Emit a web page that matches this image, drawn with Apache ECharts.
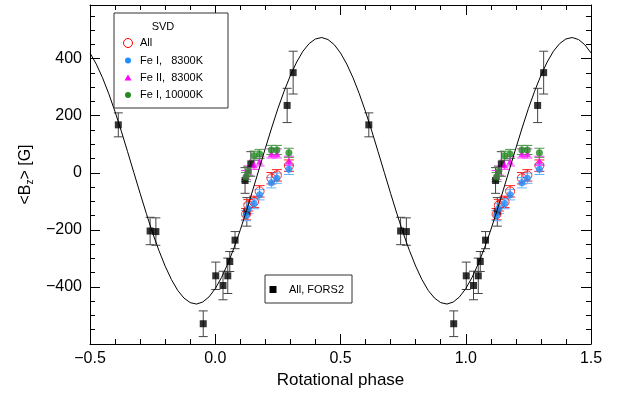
<!DOCTYPE html>
<html>
<head>
<meta charset="utf-8">
<script src="https://cdn.jsdelivr.net/npm/echarts@6/dist/echarts.min.js"></script>
<style>
  html, body { margin: 0; padding: 0; background: #fff; }
  #chart { width: 629px; height: 394px; }
</style>
</head>
<body>
<div id="chart"></div>
<script>
// fitted curve, every 0.025 in phase
const curvePhase = [
  -0.5, -0.475, -0.45, -0.425, -0.4, -0.375, -0.35, -0.325, -0.3, -0.275,
  -0.25, -0.225, -0.2, -0.175, -0.15, -0.125, -0.1, -0.075, -0.05, -0.025,
  0, 0.025, 0.05, 0.075, 0.1, 0.125, 0.15, 0.175, 0.2, 0.225,
  0.25, 0.275, 0.3, 0.325, 0.35, 0.375, 0.4, 0.425, 0.45, 0.475,
  0.5, 0.525, 0.55, 0.575, 0.6, 0.625, 0.65, 0.675, 0.7, 0.725,
  0.75, 0.775, 0.8, 0.825, 0.85, 0.875, 0.9, 0.925, 0.95, 0.975,
  1, 1.025, 1.05, 1.075, 1.1, 1.125, 1.15, 1.175, 1.2, 1.225,
  1.25, 1.275, 1.3, 1.325, 1.35, 1.375, 1.4, 1.425, 1.45, 1.475, 1.5];
const curveField = [
  420, 381, 333, 277, 214, 146, 74, 1, -72, -143,
  -211, -272, -327, -374, -412, -439, -455, -460, -453, -435,
  -406, -367, -319, -263, -200, -132, -60, 13, 86, 157,
  225, 286, 341, 388, 426, 453, 469, 474, 467, 449,
  420, 381, 333, 277, 214, 146, 74, 1, -72, -143,
  -211, -272, -327, -374, -412, -439, -455, -460, -453, -435,
  -406, -367, -319, -263, -200, -132, -60, 13, 86, 157,
  225, 286, 341, 388, 426, 453, 469, 474, 467, 449, 420];

// FORS2 measurements (each one is plotted at phase and phase + 1)
const forsPhase = [-0.387, -0.260, -0.237, -0.048, 0.002, 0.031, 0.050, 0.058, 0.079, 0.126, 0.119, 0.142, 0.287, 0.311];
const forsField = [168, -204, -206, -529, -361, -395, -361, -311, -236, -137, -27, 31, 236, 351];
const forsErr = [42, 48, 48, 45, 48, 50, 62, 35, 30, 50, 45, 43, 60, 75];

// SVD measurements
const svdPhase = [0.123, 0.132, 0.155, 0.177, 0.224, 0.246, 0.294];
const svdAll = [-145, -114, -102, -65, -19, -9, 25];
const svdFe1 = [-150, -125, -108, -77, -35, -19, 12];
const svdFe2 = [-8, 8, 28, 40, 68, 68, 42];
const svdFe1Hot = [-15, 5, 60, 66, 80, 80, 70];
const svdErr = { all: 20, fe1: 18, fe2: 16, fe1Hot: 16 };

// axis ticks
const yMajor = [-400, -200, 0, 200, 400];
const yMinor = [-550, -500, -450, -350, -300, -250, -150, -100, -50, 50, 100, 150, 250, 300, 350, 450, 500, 550];

const FONT = 'Liberation Sans, Arial, Helvetica, sans-serif';

function fold(phases, values, errs) {
  const pts = [], bars = [];
  phases.forEach((p, i) => {
    [p, p + 1].forEach(q => {
      if (q < -0.5 || q > 1.5) return;
      const e = Array.isArray(errs) ? errs[i] : errs;
      pts.push([q, values[i]]);
      bars.push([q, values[i] - e, values[i] + e]);
    });
  });
  return { pts, bars };
}

function barSeries(name, bars, color, cap) {
  return {
    name: name, type: 'custom', silent: true,
    data: bars,
    renderItem: function (params, api) {
      const x = api.value(0);
      const lo = api.coord([x, api.value(1)]);
      const hi = api.coord([x, api.value(2)]);
      const style = { stroke: color, lineWidth: 1 };
      return {
        type: 'group',
        children: [
          { type: 'line', shape: { x1: lo[0], y1: lo[1], x2: hi[0], y2: hi[1] }, style: style },
          { type: 'line', shape: { x1: lo[0] - cap, y1: lo[1], x2: lo[0] + cap, y2: lo[1] }, style: style },
          { type: 'line', shape: { x1: hi[0] - cap, y1: hi[1], x2: hi[0] + cap, y2: hi[1] }, style: style }
        ]
      };
    }
  };
}

const fors = fold(forsPhase, forsField, forsErr);
const sAll = fold(svdPhase, svdAll, svdErr.all);
const sFe1 = fold(svdPhase, svdFe1, svdErr.fe1);
const sFe2 = fold(svdPhase, svdFe2, svdErr.fe2);
const sHot = fold(svdPhase, svdFe1Hot, svdErr.fe1Hot);

const minus = v => (v < 0 ? '\u2212' : '') + Math.abs(v);

function xAxis(pos, labels) {
  return {
    type: 'value', position: pos, min: -0.5, max: 1.5, interval: 0.5,
    axisLine: { show: true, onZero: false, lineStyle: { color: '#000', width: 1 } },
    axisTick: { show: true, inside: true, length: 10, lineStyle: { color: '#000' } },
    minorTick: { show: true, splitNumber: 5, length: 5, lineStyle: { color: '#000' } },
    splitLine: { show: false },
    axisLabel: {
      show: labels, color: '#000', fontSize: 16, fontFamily: FONT, margin: 7,
      formatter: v => (v < 0 ? '\u2212' : '') + Math.abs(v).toFixed(1)
    },
    name: labels ? 'Rotational phase' : '',
    nameLocation: 'middle', nameGap: 28,
    nameTextStyle: { color: '#000', fontSize: 17, fontFamily: FONT }
  };
}

function yAxis(pos, values, len, withLine, labels) {
  return {
    type: 'value', position: pos, min: -600, max: 588,
    axisLine: { show: withLine, onZero: false, lineStyle: { color: '#000', width: 1 } },
    axisTick: { show: true, inside: true, length: len, customValues: values, lineStyle: { color: '#000' } },
    splitLine: { show: false },
    axisLabel: {
      show: labels, customValues: values, color: '#000', fontSize: 16, fontFamily: FONT, margin: 8,
      formatter: minus
    },
    name: labels ? '<B{z|z}> [G]' : '',
    nameLocation: 'middle', nameGap: 52, nameRotate: 90,
    nameTextStyle: {
      color: '#000', fontSize: 16, fontFamily: FONT,
      rich: { z: { fontSize: 10, fontFamily: FONT, color: '#000', padding: [9, 0, 0, 0] } }
    }
  };
}

const chart = echarts.init(document.getElementById('chart'));
chart.setOption({
  animation: false,
  backgroundColor: '#fff',
  grid: { left: 90, right: 38, top: 5, bottom: 47 },
  xAxis: [xAxis('bottom', true), xAxis('top', false)],
  yAxis: [
    yAxis('left', yMajor, 10, true, true),
    yAxis('left', yMinor, 5, false, false),
    yAxis('right', yMajor, 10, true, false),
    yAxis('right', yMinor, 5, false, false)
  ],
  series: [
    {
      name: 'fit', type: 'line', smooth: false, showSymbol: false, silent: true,
      data: curvePhase.map((p, i) => [p, curveField[i]]),
      lineStyle: { color: '#000', width: 1 }
    },
    barSeries('FORS2 err', fors.bars, '#444', 4.5),
    { name: 'All, FORS2', type: 'scatter', symbol: 'rect', symbolSize: 7, data: fors.pts, itemStyle: { color: '#000' } },
    barSeries('All err', sAll.bars, '#ff2020', 5),
    {
      name: 'All', type: 'scatter', symbol: 'circle', symbolSize: 9, data: sAll.pts,
      itemStyle: { color: 'rgba(0,0,0,0)', borderColor: '#ff0000', borderWidth: 1 }
    },
    barSeries('Fe I err', sFe1.bars, '#66b2ff', 5),
    { name: 'Fe I,   8300K', type: 'scatter', symbol: 'circle', symbolSize: 7, data: sFe1.pts, itemStyle: { color: '#1e90ff' } },
    barSeries('Fe II err', sFe2.bars, '#ff33ff', 5),
    { name: 'Fe II,  8300K', type: 'scatter', symbol: 'triangle', symbolSize: 7, data: sFe2.pts, itemStyle: { color: '#ff00ff' } },
    barSeries('Fe I hot err', sHot.bars, '#4e9a4e', 5),
    { name: 'Fe I, 10000K', type: 'scatter', symbol: 'circle', symbolSize: 7, data: sHot.pts, itemStyle: { color: '#228b22' } }
  ],
  graphic: [
    // SVD legend box
    { type: 'rect', z: 100, shape: { x: 114, y: 13, width: 114, height: 95 }, style: { fill: '#fff', stroke: '#333', lineWidth: 1 } },
    { type: 'text', z: 101, x: 163, y: 27, style: { text: 'SVD', fill: '#000', font: '11px ' + FONT, align: 'center', verticalAlign: 'middle' } },
    { type: 'circle', z: 101, shape: { cx: 128, cy: 43, r: 4.5 }, style: { fill: 'none', stroke: '#ff0000', lineWidth: 1 } },
    { type: 'text', z: 101, x: 140, y: 43, style: { text: 'All', fill: '#000', font: '11px ' + FONT, verticalAlign: 'middle' } },
    { type: 'circle', z: 101, shape: { cx: 128, cy: 60.5, r: 3 }, style: { fill: '#1e90ff' } },
    { type: 'text', z: 101, x: 140, y: 60.5, style: { text: 'Fe I,   8300K', fill: '#000', font: '11px ' + FONT, verticalAlign: 'middle' } },
    { type: 'polygon', z: 101, shape: { points: [[128, 74.5], [131.5, 80.5], [124.5, 80.5]] }, style: { fill: '#ff00ff' } },
    { type: 'text', z: 101, x: 140, y: 78, style: { text: 'Fe II,  8300K', fill: '#000', font: '11px ' + FONT, verticalAlign: 'middle' } },
    { type: 'circle', z: 101, shape: { cx: 128, cy: 95, r: 3 }, style: { fill: '#228b22' } },
    { type: 'text', z: 101, x: 140, y: 95, style: { text: 'Fe I, 10000K', fill: '#000', font: '11px ' + FONT, verticalAlign: 'middle' } },
    // FORS2 legend box
    { type: 'rect', z: 100, shape: { x: 265, y: 275, width: 87, height: 28 }, style: { fill: '#fff', stroke: '#333', lineWidth: 1 } },
    { type: 'rect', z: 101, shape: { x: 269.5, y: 286, width: 7, height: 7 }, style: { fill: '#000' } },
    { type: 'text', z: 101, x: 289, y: 289.5, style: { text: 'All, FORS2', fill: '#000', font: '11px ' + FONT, verticalAlign: 'middle' } }
  ]
});
</script>
</body>
</html>
